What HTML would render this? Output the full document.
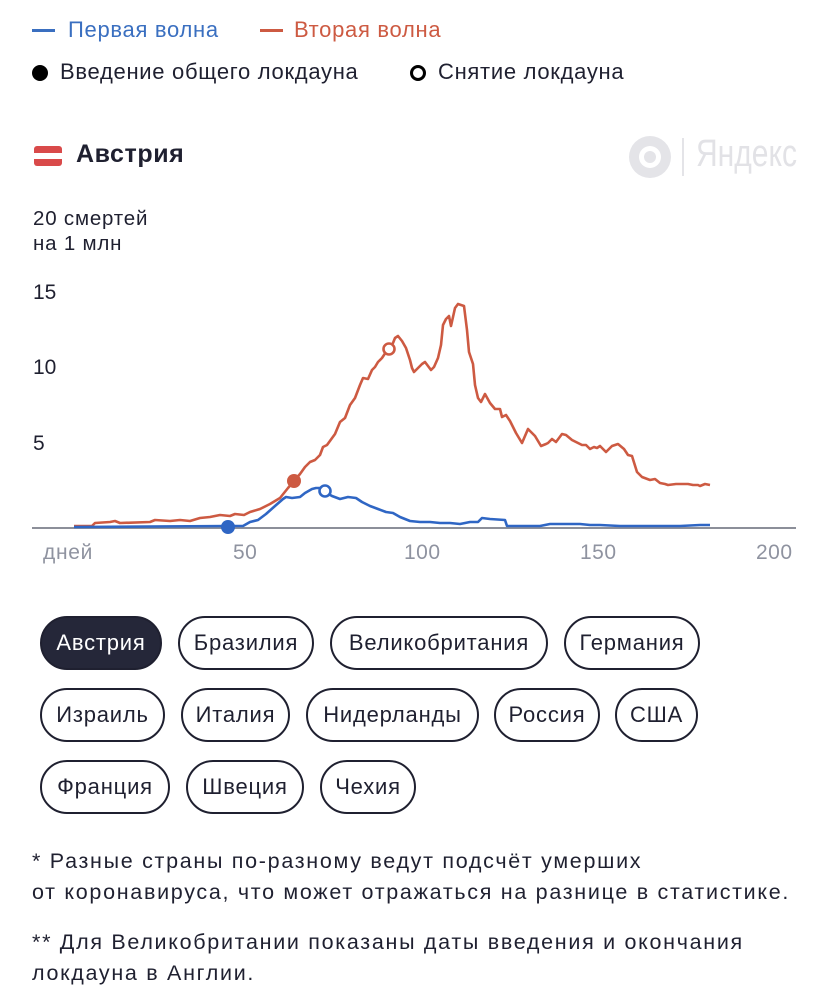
<!DOCTYPE html>
<html><head><meta charset="utf-8"><style>
body{margin:0;width:828px;height:1006px;background:#fff;font-family:"Liberation Sans","DejaVu Sans",sans-serif;color:#1f2030;position:relative;overflow:hidden}
.a{position:absolute;white-space:nowrap}
.pill{position:absolute;height:50px;border:2px solid #1f2030;border-radius:27px;font-size:22px;letter-spacing:0.8px;line-height:50px;text-align:center;box-sizing:content-box}
.fn{font-size:21.5px;letter-spacing:1.7px;line-height:31px}
.lg{font-size:22px;letter-spacing:0.7px}
</style></head><body>
<div class="a" style="left:32px;top:29px;width:23px;height:3px;background:#3a6fc0"></div>
<div class="a lg" style="left:68px;top:17px;color:#3a6fc0">Первая волна</div>
<div class="a" style="left:260px;top:29px;width:23px;height:3px;background:#cd5a42"></div>
<div class="a lg" style="left:294px;top:17px;color:#cd5a42">Вторая волна</div>
<div class="a" style="left:32px;top:65px;width:16px;height:16px;border-radius:50%;background:#000"></div>
<div class="a lg" style="left:60px;top:59px">Введение общего локдауна</div>
<div class="a" style="left:410px;top:65px;width:10px;height:10px;border-radius:50%;border:3px solid #000"></div>
<div class="a lg" style="left:438px;top:59px">Снятие локдауна</div>
<div class="a" style="left:34px;top:146px;width:28px;height:20px;border-radius:3px;background:linear-gradient(#d94a4a 0 35%,#fff 35% 65%,#d94a4a 65%)"></div>
<div class="a" style="left:76px;top:140px;font-size:25px;letter-spacing:0.6px;font-weight:bold">Австрия</div>
<svg class="a" style="left:628px;top:134px" width="46" height="46"><circle cx="22" cy="23" r="21" fill="#e4e4e8"/><circle cx="22" cy="23" r="11" fill="#fff"/><circle cx="22" cy="23" r="6" fill="#e4e4e8"/></svg>
<div class="a" style="left:682px;top:138px;width:2px;height:38px;background:#e4e4e8"></div>
<div class="a" style="left:696px;top:133px;font-size:38px;color:#e2e2e6;transform:scaleX(0.79);transform-origin:left">Яндекс</div>
<div class="a" style="left:33px;top:206px;font-size:20.5px;letter-spacing:0.8px;line-height:25px">20 смертей<br>на 1 млн</div>
<div class="a" style="left:33px;top:281px;font-size:21px">15</div>
<div class="a" style="left:33px;top:356px;font-size:21px">10</div>
<div class="a" style="left:33px;top:432px;font-size:21px">5</div>
<div class="a" style="left:43px;top:541px;font-size:21px;letter-spacing:0.7px;color:#8f93a0">дней</div>
<div class="a" style="left:233px;top:541px;font-size:21px;letter-spacing:0.5px;color:#8f93a0">50</div>
<div class="a" style="left:404px;top:541px;font-size:21px;letter-spacing:0.5px;color:#8f93a0">100</div>
<div class="a" style="left:580px;top:541px;font-size:21px;letter-spacing:0.5px;color:#8f93a0">150</div>
<div class="a" style="left:756px;top:541px;font-size:21px;letter-spacing:0.5px;color:#8f93a0">200</div>
<svg class="a" style="left:0;top:0" width="828" height="600">
<line x1="32" y1="528" x2="796" y2="528" stroke="#8c8f99" stroke-width="2"/>
<polyline fill="none" stroke="#cd5a42" stroke-width="2.6" stroke-linejoin="round" points="74,526 92,526 95,523 110,522 115,521 120,523 150,522 155,520 170,521 180,520 190,521 200,518 210,517 220,515 230,516 235,514 244,515 250,512 260,509 270,504 280,498 288,488 294,481 300,474 305,467 310,462 315,460 320,455 323,447 327,445 335,434 340,422 345,418 350,405 355,398 360,385 363,378 368,379 372,370 375,367 378,362 382,358 386,352 390,348 393,343 395,338 398,336 402,341 406,348 410,360 412,368 414,372 418,368 422,364 425,362 428,366 431,370 434,367 438,358 441,345 443,325 446,319 449,316 451,326 455,308 458,304 461,305 464,306 467,330 469,352 473,364 475,385 478,398 481,402 485,394 490,403 495,409 500,409 502,417 506,415 510,421 516,433 522,443 528,429 535,436 541,446 546,444 548,443 552,439 556,442 562,434 566,435 572,440 578,443 582,445 586,445 590,449 594,447 597,448 600,446 606,452 612,446 618,444 624,449 628,455 632,456 637,472 642,477 650,480 655,479 660,483 665,484 668,485 676,484 688,484 693,485 698,485 700,486 705,484 710,485"/>
<polyline fill="none" stroke="#2f66c4" stroke-width="2.6" stroke-linejoin="round" points="74,527 228,526 243,526 250,522 258,520 266,514 275,506 283,499 286,497 292,498 300,497 305,493 312,489 316,488 320,488 325,492 332,496 340,499 348,497 356,498 362,502 370,506 378,509 386,512 393,513 400,517 410,521 420,522 430,522 440,523 450,523 460,524 470,522 478,522 482,518 490,519 505,520 507,526 540,526 550,524 570,524 580,524 590,525 600,525 620,526 660,526 680,526 700,525 710,525"/>
<circle cx="228" cy="527" r="7" fill="#2f66c4"/>
<circle cx="325" cy="491" r="5.5" fill="#fff" stroke="#2f66c4" stroke-width="2.6"/>
<circle cx="294" cy="481" r="7" fill="#cd5a42"/>
<circle cx="389" cy="349" r="5.5" fill="#fff" stroke="#cd5a42" stroke-width="2.6"/>
</svg>
<div class="pill" style="left:40px;top:616px;width:118px;background:#252739;color:#fff">Австрия</div>
<div class="pill" style="left:178px;top:616px;width:132px">Бразилия</div>
<div class="pill" style="left:330px;top:616px;width:214px">Великобритания</div>
<div class="pill" style="left:564px;top:616px;width:132px">Германия</div>
<div class="pill" style="left:40px;top:688px;width:121px">Израиль</div>
<div class="pill" style="left:181px;top:688px;width:105px">Италия</div>
<div class="pill" style="left:306px;top:688px;width:169px">Нидерланды</div>
<div class="pill" style="left:494px;top:688px;width:102px">Россия</div>
<div class="pill" style="left:615px;top:688px;width:79px">США</div>
<div class="pill" style="left:40px;top:760px;width:126px">Франция</div>
<div class="pill" style="left:186px;top:760px;width:114px">Швеция</div>
<div class="pill" style="left:320px;top:760px;width:92px">Чехия</div>
<div class="a fn" style="left:32px;top:846px">* Разные страны по-разному ведут подсчёт умерших<br>от коронавируса, что может отражаться на разнице в статистике.</div>
<div class="a fn" style="left:32px;top:927px">** Для Великобритании показаны даты введения и окончания<br>локдауна в Англии.</div>
</body></html>
